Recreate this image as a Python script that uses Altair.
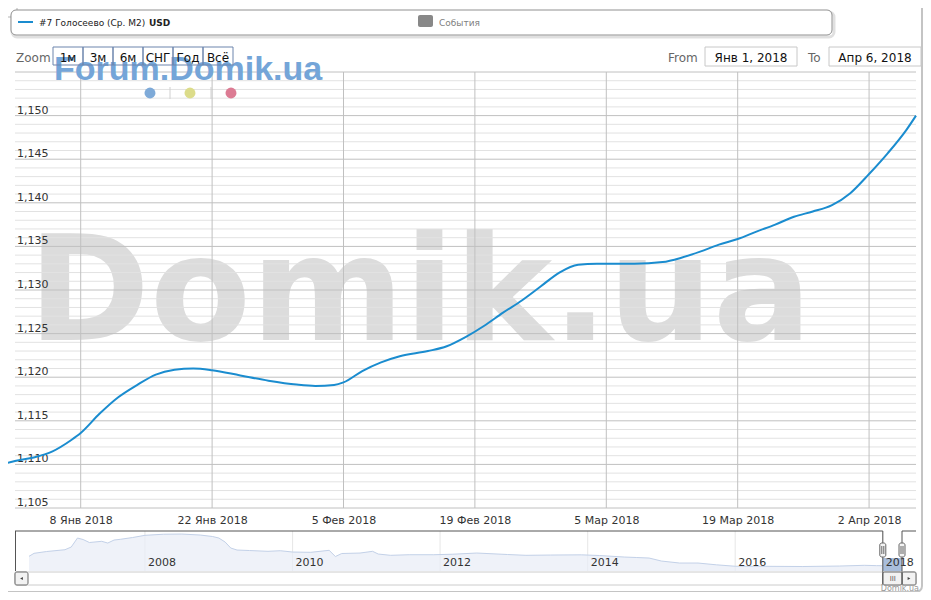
import altair as alt
import pandas as pd

# ---------------- data ----------------
MAIN_DATES = ["2017-12-31", "2018-01-01", "2018-01-03", "2018-01-05", "2018-01-07", "2018-01-08",
              "2018-01-10", "2018-01-12", "2018-01-14", "2018-01-16", "2018-01-18", "2018-01-20",
              "2018-01-22", "2018-01-25", "2018-01-28", "2018-01-31", "2018-02-02", "2018-02-04",
              "2018-02-05", "2018-02-07", "2018-02-09", "2018-02-11", "2018-02-14", "2018-02-16",
              "2018-02-18", "2018-02-20", "2018-02-22", "2018-02-24", "2018-02-26", "2018-02-28",
              "2018-03-02", "2018-03-04", "2018-03-08", "2018-03-11", "2018-03-13", "2018-03-15",
              "2018-03-17", "2018-03-19", "2018-03-21", "2018-03-23", "2018-03-25", "2018-03-27",
              "2018-03-29", "2018-03-31", "2018-04-02", "2018-04-04", "2018-04-06", "2018-04-07"]
MAIN_VALUES = [1110.1, 1110.4, 1110.8, 1111.5, 1112.8, 1113.6,
               1115.8, 1117.7, 1119.1, 1120.3, 1120.85, 1121.0,
               1120.8, 1120.2, 1119.6, 1119.15, 1119.0, 1119.1,
               1119.4, 1120.7, 1121.7, 1122.4, 1123.0, 1123.55,
               1124.6, 1125.9, 1127.4, 1128.8, 1130.4, 1132.0,
               1132.9, 1133.0, 1133.0, 1133.2, 1133.7, 1134.4,
               1135.2, 1135.85, 1136.7, 1137.5, 1138.4, 1139.0,
               1139.7, 1141.1, 1143.3, 1145.7, 1148.4, 1150.0]

NAV_DATES = ["2006-06-06", "2006-07-01", "2006-09-01", "2006-12-01", "2007-01-01", "2007-02-01",
             "2007-03-01", "2007-04-01", "2007-06-01", "2007-07-01", "2007-08-01", "2007-09-01",
             "2007-11-01", "2008-01-01", "2008-04-01", "2008-07-01", "2008-10-01", "2008-12-01",
             "2009-01-01", "2009-02-01", "2009-03-01", "2009-04-01", "2009-06-01", "2009-09-01",
             "2009-11-01", "2010-01-01", "2010-04-01", "2010-07-01", "2010-08-01", "2010-09-01",
             "2010-12-01", "2011-02-01", "2011-03-01", "2011-05-01", "2011-08-01", "2011-12-01",
             "2012-03-01", "2012-07-01", "2012-12-01", "2013-03-01", "2013-07-01", "2013-12-01",
             "2014-03-01", "2014-07-01", "2014-09-01", "2014-11-01", "2015-01-01", "2015-04-01",
             "2015-07-01", "2015-10-01", "2016-01-01", "2016-06-01", "2016-12-01", "2017-06-01",
             "2017-10-01", "2017-12-01"]
NAV_VALUES = [1345, 1420, 1465, 1510, 1577, 1802,
              1765, 1690, 1720, 1677, 1752, 1770,
              1815, 1870, 1897, 1902, 1877, 1840,
              1802, 1702, 1552, 1502, 1490, 1470,
              1485, 1452, 1445, 1495, 1340, 1415,
              1427, 1470, 1402, 1370, 1385, 1385,
              1397, 1427, 1390, 1370, 1377, 1382,
              1365, 1327, 1315, 1302, 1227, 1177,
              1177, 1132, 1097, 1095, 1090, 1102,
              1120, 1112]

X_TICKS = ["2018-01-08", "2018-01-22", "2018-02-05", "2018-02-19", "2018-03-05", "2018-03-19", "2018-04-02"]
MONTHS_RU = ["Янв", "Фев", "Мар", "Апр", "Май", "Июн", "Июл", "Авг", "Сен", "Окт", "Ноя", "Дек"]
Y_MAJOR = [1105, 1110, 1115, 1120, 1125, 1130, 1135, 1140, 1145, 1150, 1155]
Y_LABELS = [1105, 1110, 1115, 1120, 1125, 1130, 1135, 1140, 1145, 1150]
Y_MINOR = [v for v in range(1105, 1156) if v % 5 != 0]
X_DOMAIN = ["2018-01-01", "2018-04-07"]
Y_DOMAIN = [1105, 1155]

NAV_YEARS = ["2008-01-01", "2010-01-01", "2012-01-01", "2014-01-01", "2016-01-01", "2018-01-01"]
NAV_YEAR_LABELS = ["2008", "2010", "2012", "2014", "2016", "2018"]
NAV_DOMAIN = ["2006-06-06", "2018-04-06"]
NAV_Y_DOMAIN = [978, 1978]
SELECTED = ["2018-01-01", "2018-04-06"]

BUTTONS = ["1м", "3м", "6м", "СНГ", "Год", "Всё"]
SERIES_NAME = "#7 Голосеево (Ср. M2)"
SERIES_UNIT = "USD"
EVENTS_LABEL = "События"
FROM_TEXT = "Янв 1, 2018"
TO_TEXT = "Апр 6, 2018"

LINE_COLOR = "#1a8ccf"
FONT = "DejaVu Sans"
OX, OY = 15, 72  # page position of the plot origin


def ms(d):
    return int(pd.Timestamp(d, tz="UTC").timestamp() * 1000)


DUMMY = pd.DataFrame({"k": [0]})


def T(text, x, y, size=12, color="#333333", align="left", weight="normal", font=FONT):
    return alt.Chart(DUMMY).mark_text(
        text=text, fontSize=size, color=color, align=align, baseline="alphabetic",
        fontWeight=weight, font=font
    ).encode(x=alt.value(x - OX), y=alt.value(y - OY))


def R(x1, y1, x2, y2, **kw):
    return alt.Chart(DUMMY).mark_rect(**kw).encode(
        x=alt.value(x1 - OX), x2=alt.value(x2 - OX), y=alt.value(y1 - OY), y2=alt.value(y2 - OY))


def L(x1, y1, x2, y2, color="#555555", width=1):
    return alt.Chart(DUMMY).mark_rule(color=color, strokeWidth=width).encode(
        x=alt.value(x1 - OX), x2=alt.value(x2 - OX), y=alt.value(y1 - OY), y2=alt.value(y2 - OY))


# ---------------- main plot ----------------
main_df = pd.DataFrame({"date": MAIN_DATES, "value": MAIN_VALUES})


def XS():
    return alt.Scale(type="utc", domain=[ms(d) for d in X_DOMAIN], nice=False)


def YS():
    return alt.Scale(domain=Y_DOMAIN, zero=False, nice=False)


month_arr = "[" + ",".join("'" + m + "'" for m in MONTHS_RU) + "]"
X_AXIS = alt.Axis(values=[ms(d) for d in X_TICKS], title=None, grid=False, ticks=False, domain=False,
                  labelExpr="utcdate(datum.value) + ' ' + " + month_arr + "[utcmonth(datum.value)] + ' ' + utcyear(datum.value)",
                  labelFontSize=11, labelColor="#333333", labelFont=FONT, labelPadding=6,
                  labelFlush=False, labelOverlap=False, zindex=2)

watermark = alt.Chart(DUMMY).mark_text(
    text="Domik.ua", font=FONT, fontWeight="bold", fontSize=147, color="#dcdcdc",
    align="center", baseline="alphabetic"
).encode(x=alt.value(420 - OX), y=alt.value(340 - OY))

minor_grid = alt.Chart(pd.DataFrame({"value": Y_MINOR})).mark_rule(color="#e2e2e2", strokeWidth=1).encode(
    y=alt.Y("value:Q", scale=YS(), axis=None))
major_grid = alt.Chart(pd.DataFrame({"value": Y_MAJOR})).mark_rule(color="#c0c0c0", strokeWidth=1).encode(
    y=alt.Y("value:Q", scale=YS(), axis=None))
v_grid = alt.Chart(pd.DataFrame({"date": X_TICKS})).mark_rule(color="#c0c0c0", strokeWidth=1).encode(
    x=alt.X("date:T", scale=XS(), axis=None))
y_labels = alt.Chart(pd.DataFrame({"value": Y_LABELS})).mark_text(
    align="left", baseline="alphabetic", dx=2, dy=-2, fontSize=11, color="#333333", font=FONT
).encode(x=alt.value(0), y=alt.Y("value:Q", scale=YS(), axis=None), text=alt.Text("value:Q", format=",d"))
line = alt.Chart(main_df).mark_line(color=LINE_COLOR, strokeWidth=2, interpolate="monotone", clip=False).encode(
    x=alt.X("date:T", scale=XS(), axis=X_AXIS),
    y=alt.Y("value:Q", scale=YS(), axis=None))

main_layers = [watermark, minor_grid, major_grid, v_grid, y_labels, line]

# ---------------- navigator ----------------
nav_df = pd.DataFrame({"date": NAV_DATES + MAIN_DATES[1:], "value": NAV_VALUES + MAIN_VALUES[1:]})


def NX():
    return alt.Scale(type="utc", domain=[ms(d) for d in NAV_DOMAIN], range=[29 - OX, 902 - OX], nice=False)


def NY():
    return alt.Scale(domain=NAV_Y_DOMAIN, range=[571 - OY, 531 - OY], zero=False, nice=False)


NTOP, NBOT, SBOT = 531 - OY, 571 - OY, 585 - OY

sel_df = pd.DataFrame({"start": [SELECTED[0]], "end": [SELECTED[1]]})
handle_df = pd.DataFrame({"d": SELECTED})
years_df = pd.DataFrame({"date": NAV_YEARS, "label": NAV_YEAR_LABELS})

nav_grid = alt.Chart(years_df).mark_rule(color="#e6e6e6").encode(
    x=alt.X("date:T", scale=NX(), axis=None), y=alt.value(NTOP), y2=alt.value(NBOT))
nav_area = alt.Chart(nav_df).transform_calculate(base=str(NAV_Y_DOMAIN[0])).mark_area(
    color="#e8edf6", line=alt.OverlayMarkDef(color="#c3d1e8", strokeWidth=1), clip=False
).encode(x=alt.X("date:T", scale=NX(), axis=None), y=alt.Y("value:Q", scale=NY(), axis=None), y2="base:Q")
nav_sel = alt.Chart(sel_df).mark_rect(color="#a9bedc").encode(
    x=alt.X("start:T", scale=NX(), axis=None), x2="end:T", y=alt.value(558 - OY), y2=alt.value(NBOT))
nav_labels = alt.Chart(years_df).mark_text(align="left", dx=3, baseline="alphabetic", fontSize=11,
                                           color="#333333", font=FONT).encode(
    x=alt.X("date:T", scale=NX(), axis=None), y=alt.value(566 - OY), text="label:N")

track = R(15, 572, 916, 585, fill="#ffffff", stroke="#cccccc", strokeWidth=1)
btn_l = R(15, 572, 28, 585, fill="#f2f2f2", stroke="#666666", strokeWidth=1, cornerRadius=2)
btn_r = R(902, 572, 916, 585, fill="#f2f2f2", stroke="#666666", strokeWidth=1, cornerRadius=2)
tri_l = alt.Chart(DUMMY).mark_point(shape="triangle-left", filled=True, size=10, color="#444444", opacity=1).encode(
    x=alt.value(21.5 - OX), y=alt.value(578.5 - OY))
tri_r = alt.Chart(DUMMY).mark_point(shape="triangle-right", filled=True, size=10, color="#444444", opacity=1).encode(
    x=alt.value(909 - OX), y=alt.value(578.5 - OY))
thumb = alt.Chart(sel_df).mark_rect(fill="#f2f2f2", stroke="#666666", strokeWidth=1, cornerRadius=2).encode(
    x=alt.X("start:T", scale=NX(), axis=None), x2="end:T", y=alt.value(572 - OY), y2=alt.value(SBOT))
thumb_txt = alt.Chart(sel_df).mark_text(text="III", dx=10, fontSize=7, color="#555555", baseline="middle").encode(
    x=alt.X("start:T", scale=NX(), axis=None), y=alt.value(578.5 - OY))

out_tl = alt.Chart(sel_df).mark_rule(color="#555555").encode(
    x=alt.X("start:T", scale=NX(), axis=None), x2=alt.value(0), y=alt.value(NTOP))
out_tr = alt.Chart(sel_df).mark_rule(color="#555555").encode(
    x=alt.X("end:T", scale=NX(), axis=None), x2=alt.value(901), y=alt.value(NTOP))
out_v = alt.Chart(handle_df).mark_rule(color="#555555").encode(
    x=alt.X("d:T", scale=NX(), axis=None), y=alt.value(NTOP), y2=alt.value(SBOT))
out_left = L(15.5, 531, 15.5, 571)

handles = alt.Chart(handle_df).mark_rect(xOffset=-3, x2Offset=3, cornerRadius=2, fill="#f4f4f4",
                                         stroke="#666666", strokeWidth=1).encode(
    x=alt.X("d:T", scale=NX(), axis=None), x2="d:T", y=alt.value(543 - OY), y2=alt.value(557 - OY))
grip1 = alt.Chart(handle_df).mark_rule(xOffset=-1, color="#666666").encode(
    x=alt.X("d:T", scale=NX(), axis=None), y=alt.value(546 - OY), y2=alt.value(554 - OY))
grip2 = alt.Chart(handle_df).mark_rule(xOffset=1, color="#666666").encode(
    x=alt.X("d:T", scale=NX(), axis=None), y=alt.value(546 - OY), y2=alt.value(554 - OY))

nav_layers = [nav_grid, nav_area, nav_sel, nav_labels, track, btn_l, btn_r, tri_l, tri_r,
              thumb, thumb_txt, out_tl, out_tr, out_v, out_left, handles, grip1, grip2]

# ---------------- decorations ----------------
bg = [
    R(1, 1, 922, 592, fill="#ffffff", stroke="#c4c4c4", strokeWidth=2, cornerRadius=6),
    R(1, 1, 17, 17, fill="#ffffff", stroke="#b5b5b5", strokeWidth=1, cornerRadius=3),
    R(12, 12, 834, 37, fill="#ffffff", stroke="#000000", strokeOpacity=0.12, strokeWidth=3, cornerRadius=5),
    R(11, 10, 832, 35, fill="#ffffff", stroke="#909090", strokeWidth=1, cornerRadius=5),
    L(18, 22, 33, 22, color=LINE_COLOR, width=2),
    T(SERIES_NAME, 39, 25.5, size=9, color="#222222"),
    T(SERIES_UNIT, 149, 25.5, size=9, color="#222222", weight="bold"),
    R(418, 15, 433, 27, fill="#888888", cornerRadius=2),
    T(EVENTS_LABEL, 439, 25.5, size=9, color="#808080"),
]

fg = [
    T("Forum.Domik.ua", 54, 80, size=34, color="#74a5d8", weight="bold", font="Liberation Sans"),
    L(170, 87, 170, 99, color="#d0d0d0"),
    L(211, 87, 211, 99, color="#d0d0d0"),
]
for cx, col in [(150, "#7eaad8"), (190, "#dcdc8a"), (231, "#dc7b93")]:
    fg.append(alt.Chart(DUMMY).mark_point(filled=True, size=120, color=col, opacity=1).encode(
        x=alt.value(cx - OX), y=alt.value(93 - OY)))

fg.append(T("Zoom", 16, 61.5, size=12, color="#666666"))
for i, lab in enumerate(BUTTONS):
    x0 = 53 + 30 * i
    fg.append(R(x0, 47, x0 + 30, 65, fill="transparent", stroke="#6d85ad", strokeWidth=1))
    fg.append(T(lab, x0 + 15, 61.5, size=12, color="#111111", align="center"))

fg += [
    T("From", 668, 61.5, size=12, color="#666666"),
    R(705, 47, 797, 66, fill="#ffffff", stroke="#c8c8c8", strokeWidth=1),
    T(FROM_TEXT, 751, 61.5, size=12, color="#111111", align="center"),
    T("To", 808, 61.5, size=12, color="#666666"),
    R(829, 47, 921, 66, fill="#ffffff", stroke="#c8c8c8", strokeWidth=1),
    T(TO_TEXT, 875, 61.5, size=12, color="#111111", align="center"),
    T("Domik.ua", 919, 590.5, size=8, color="#999999", align="right"),
]

chart = alt.layer(*bg, *main_layers, *nav_layers, *fg).resolve_scale(
    x="independent", y="independent"
).properties(
    width=901, height=436,
    padding={"left": 7, "top": 64, "right": 7, "bottom": 84},
    autosize=alt.AutoSizeParams(type="none"),
).configure(background="#ffffff", font=FONT).configure_view(stroke="#c0c0c0", strokeWidth=1)

chart.save("out.html", embed_options={"renderer": "svg", "actions": False})
